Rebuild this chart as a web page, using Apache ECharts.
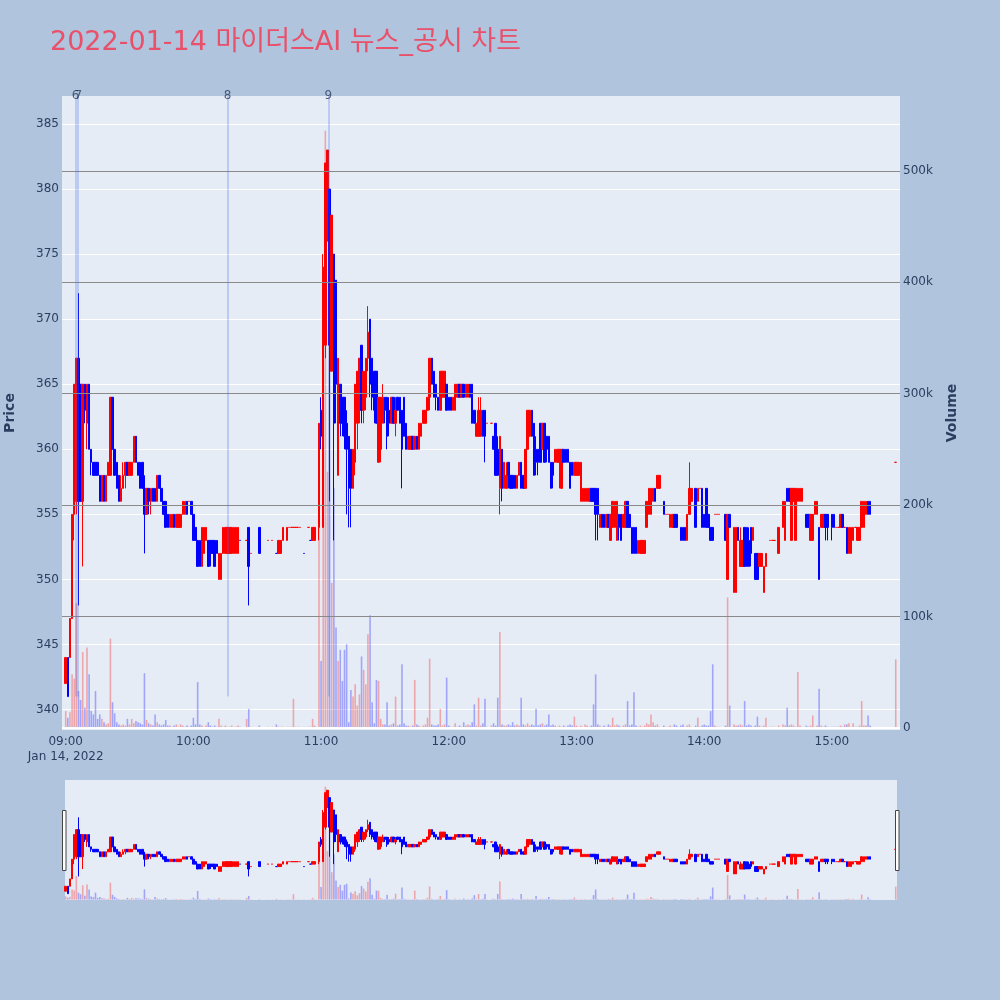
<!DOCTYPE html>
<html><head><meta charset="utf-8">
<script src="https://cdn.jsdelivr.net/npm/echarts@6/dist/echarts.min.js"></script>
<style>html,body{margin:0;padding:0;background:#B0C4DE;}#chart{width:1000px;height:1000px;}</style>
</head><body><div id="chart"></div>
<script>
// minute index from 09:00 (0..390); null = no trade in that minute
const opens = [
342,344,344,347,355,356,367,365,356,365,
362,365,360,359,359,359,358,356,358,356,
358,358,364,360,359,358,356,357,358,359,
358,358,359,361,359,359,359,357,355,357,
356,357,357,356,358,357,356,356,355,354,
354,355,354,354,354,355,355,356,356,356,
355,354,353,353,351,352,353,353,353,353,
353,353,350,350,352,352,352,352,352,352,
352,352,353,null,null,353,354,352,null,null,
null,354,null,null,null,353,null,353,null,352,
352,352,353,null,353,354,354,354,354,354,
354,null,352,null,354,353,353,353,null,354,
363,354,368,376,380,366,375,373,358,365,
364,364,362,361,360,357,359,362,363,368,
363,364,367,370,367,366,366,359,360,362,
364,364,363,362,364,362,364,364,363,364,
362,360,360,361,360,361,360,361,362,362,
363,364,367,366,365,364,363,364,364,365,
364,364,363,363,364,365,364,365,364,364,
365,365,363,361,361,361,363,363,362,null,
362,361,362,360,357,360,357,357,359,358,
358,358,357,358,359,358,357,360,361,363,
362,360,360,362,360,362,361,361,359,359,
359,359,359,357,360,360,360,359,359,358,
358,358,356,356,356,356,356,357,357,357,
357,354,355,355,354,355,353,354,354,353,
355,355,354,354,356,355,354,354,354,352,
352,352,352,354,355,355,356,357,357,357,
null,356,355,355,354,354,355,355,null,354,
354,354,353,355,356,null,357,356,357,357,
355,357,355,354,354,355,355,355,null,null,
355,350,355,null,349,349,354,351,351,354,
354,353,354,353,352,352,351,351,349,351,
null,353,353,353,null,352,null,354,353,357,
357,353,356,353,356,356,356,null,355,355,
353,353,355,355,354,354,354,355,355,null,
355,355,354,354,354,355,354,354,352,352,
353,354,353,353,354,354,355,356,356,null,
null,null,null,null,null,null,null,null,null,null,
359];
const highs = [
344,344,347,355,365,367,372,365,365,365,
365,365,360,359,359,359,358,358,358,358,
359,364,364,360,359,358,358,359,359,359,
359,359,361,361,359,359,359,358,357,357,
357,357,357,358,358,357,356,356,355,355,
355,355,355,355,355,356,356,356,356,356,
355,354,353,353,354,354,354,353,353,353,
353,353,352,352,354,354,354,354,354,354,
354,354,353,null,null,353,354,352,null,null,
null,354,null,null,null,353,null,353,null,352,
353,353,354,null,354,354,354,354,354,354,
354,null,352,null,354,353,354,354,null,362,
364,375,382,383,380,378,375,373,367,365,
364,364,363,361,360,360,365,366,367,368,
366,367,371,370,367,366,366,364,364,365,
364,364,364,364,364,364,364,364,363,364,
362,361,361,361,361,361,362,362,363,363,
364,367,367,366,365,364,366,366,366,365,
364,364,364,365,365,365,365,365,365,365,
365,365,363,362,364,364,363,363,362,null,
362,361,362,361,361,360,359,359,359,358,
358,358,358,359,359,358,360,363,363,363,
362,361,360,362,362,362,361,361,359,359,
360,360,360,360,360,360,360,359,359,359,
359,359,359,357,357,357,357,357,357,357,
357,355,355,355,355,355,355,356,356,356,
355,355,355,356,356,355,354,354,354,353,
353,353,353,356,357,357,357,357,358,358,
null,356,355,355,355,355,355,355,null,354,
354,354,355,359,357,null,357,357,357,357,
355,357,355,354,354,355,355,355,null,null,
355,355,355,null,354,354,354,354,353,354,
354,354,354,354,352,352,352,352,351,352,
null,353,353,353,null,354,null,356,356,357,
357,357,357,357,357,357,357,null,355,355,
355,355,356,356,354,355,355,355,355,null,
355,355,354,354,355,355,354,354,354,354,
354,354,354,354,356,356,356,356,356,null,
null,null,null,null,null,null,null,null,null,null,
359];
const lows = [
342,341,344,347,353,355,348,356,351,362,
360,360,358,358,358,358,356,356,356,356,
358,358,360,358,357,356,356,357,357,358,
358,358,359,359,358,357,357,352,355,355,
355,356,356,356,357,356,355,354,354,354,
354,354,354,354,354,355,355,355,356,355,
353,353,351,351,351,352,353,351,351,352,
351,352,350,350,352,352,352,352,352,352,
352,352,353,null,null,353,348,352,null,null,
null,352,null,null,null,353,null,353,null,352,
352,352,353,null,353,354,354,354,354,354,
354,null,352,null,354,353,353,353,null,353,
360,354,367,376,356,366,353,362,358,361,
361,360,355,354,354,357,358,360,362,362,
362,363,366,364,363,362,362,359,359,362,
362,360,361,362,362,361,363,362,357,361,
360,360,360,360,360,360,360,361,362,362,
363,363,365,364,363,363,363,364,364,363,
363,363,363,363,364,364,364,364,364,364,
364,362,362,361,361,361,361,359,362,null,
362,360,358,358,355,356,357,357,357,357,
357,357,357,358,357,357,357,360,361,361,
358,358,358,359,360,359,359,359,357,357,
359,359,357,357,359,359,359,357,358,358,
358,358,356,356,356,356,356,356,356,353,
353,354,354,354,354,354,353,354,354,353,
353,353,354,354,354,354,352,352,352,352,
352,352,352,354,355,355,356,356,357,357,
null,355,355,355,354,354,354,354,null,353,
353,353,353,355,356,null,354,356,357,354,
354,354,354,353,353,355,355,355,null,null,
353,350,354,null,349,349,353,351,351,351,
351,351,351,353,350,350,351,351,349,351,
null,353,353,353,null,352,null,354,353,356,
356,353,356,353,356,356,356,null,354,354,
353,353,355,355,350,354,354,353,353,null,
353,354,354,354,354,354,354,352,352,352,
353,354,353,353,354,354,355,355,355,null,
null,null,null,null,null,null,null,null,null,null,
359];
const closes = [
344,341,347,355,365,367,356,356,365,363,
365,360,359,358,358,358,356,358,356,358,
359,364,360,358,357,356,357,358,359,358,
359,359,361,359,358,357,357,355,357,356,
357,356,356,358,357,356,355,354,354,355,
355,354,355,355,355,356,356,355,356,355,
353,353,351,351,354,354,354,351,352,352,
351,352,352,352,354,354,354,354,354,354,
354,354,353,null,null,353,351,352,null,null,
null,352,null,null,null,353,null,353,null,352,
353,353,354,null,354,354,354,354,354,354,
354,null,352,null,354,353,354,354,null,362,
361,374,382,383,368,378,362,365,367,362,
362,361,360,357,357,360,365,366,367,363,
366,367,369,365,364,363,362,364,364,364,
363,361,362,364,362,363,363,362,360,361,
360,361,361,360,361,360,362,362,363,363,
364,367,365,364,364,363,366,366,366,363,
363,363,364,365,365,364,365,364,365,365,
364,362,362,362,363,363,361,361,362,null,
362,360,358,358,361,357,359,358,358,357,
357,357,358,359,357,357,360,363,363,361,
358,359,359,359,362,359,360,359,357,358,
360,360,360,360,359,359,359,357,358,359,
359,359,359,357,357,357,357,356,356,355,
355,355,354,354,355,354,355,356,356,356,
354,353,355,356,354,354,352,352,352,353,
353,353,353,356,357,357,357,356,358,358,
null,355,355,355,355,355,354,354,null,353,
353,353,355,357,357,null,354,357,357,354,
354,354,354,353,353,355,355,355,null,null,
353,355,354,null,354,354,353,353,353,351,
351,351,352,354,350,350,352,352,351,352,
null,353,353,353,null,354,null,356,356,356,
356,357,357,357,357,357,357,null,354,354,
355,355,356,356,350,355,355,354,354,null,
354,354,354,354,355,354,354,352,354,354,
354,354,354,354,356,356,356,355,355,null,
null,null,null,null,null,null,null,null,null,null,
359];
// volume in thousands of shares
const volumes = [
15,9,14,48,44,112,33,25,68,18,
72,48,15,12,33,8,12,8,5,3,
4,80,23,13,5,3,2,3,2,8,
3,8,4,6,5,4,3,49,7,4,
3,2,12,5,3,2,3,7,2,2,
1,2,3,1,3,2,1,2,1,2,
9,3,41,3,2,1,2,5,2,1,
2,1,8,2,1,2,1,1,2,1,
1,2,1,null,null,8,17,1,null,null,
null,2,null,null,null,1,null,1,null,3,
1,1,1,null,1,1,1,26,1,1,
1,null,1,null,1,1,8,2,null,190,
60,300,536,230,330,130,215,90,60,70,
42,70,75,5,34,28,39,20,30,64,
52,39,84,101,23,4,43,42,8,3,
3,23,2,3,4,28,2,3,57,4,
2,2,1,2,43,3,2,1,2,3,
9,62,3,2,2,3,17,2,3,45,
2,1,1,4,1,2,1,5,2,3,
2,5,21,2,27,2,4,26,1,null,
2,4,2,27,86,3,2,2,3,2,
5,2,3,2,27,3,2,4,2,3,
2,17,2,3,4,2,3,12,2,3,
2,1,2,1,2,1,2,3,2,10,
2,1,2,1,3,2,1,2,21,48,
3,2,1,2,1,3,2,9,2,3,
2,1,2,3,24,2,3,32,2,1,
2,1,2,4,3,12,5,2,3,1,
null,2,1,1,2,1,3,2,null,2,
3,1,2,3,1,null,2,9,1,2,
3,2,2,15,57,2,1,1,null,null,
2,117,20,null,3,2,2,3,2,24,
2,3,2,1,2,10,2,1,2,9,
null,1,1,1,null,2,null,3,2,18,
2,3,2,1,50,2,1,null,2,1,
2,11,1,2,35,2,1,2,1,null,
1,1,1,1,2,1,3,3,4,1,
4,1,1,2,24,2,2,11,2,null,
null,null,null,null,null,null,null,null,null,null,
61.5];

const newsTimes = [4.65, 5.87, 76.1, 123.4];
const newsLabels = ['6', '7', '8', '9'];
const priceTicks = [340, 345, 350, 355, 360, 365, 370, 375, 380, 385];
const volumeTicks = [0, 100, 200, 300, 400, 500];
const volumeGrid = [100, 200, 300, 400, 500];
const timeTicks = [0, 60, 120, 180, 240, 300, 360];
const timeLabels = ['09:00', '10:00', '11:00', '12:00', '13:00', '14:00', '15:00'];
const dateLabel = 'Jan 14, 2022';
const titleText = '2022-01-14 마이더스AI 뉴스_공시 차트';

const UP = '#FF0000', DOWN = '#0000FF';
const VUP = 'rgba(255,0,0,0.3)', VDOWN = 'rgba(0,0,255,0.3)';
const candleData = [], volData = [];
let prevClose = null;
for (let i = 0; i < opens.length; i++) {
  if (opens[i] == null) continue;
  const o = opens[i], c = closes[i];
  const up = c > o || (c === o && (prevClose == null || prevClose <= c));
  candleData.push([i, o, c, lows[i], highs[i]]);
  volData.push({ value: [i, volumes[i]], itemStyle: { color: up ? VUP : VDOWN } });
  prevClose = c;
}
const FONT = "'DejaVu Sans', 'Noto Sans CJK KR', sans-serif";
const TXT = '#2a3f5f';
const XMIN = -1.74, XMAX = 392.0, PMIN = 338.43, PMAX = 387.15, VMIN = -2, VMAX = 567.3;

const candleStyle = { color: UP, color0: DOWN, borderColor: UP, borderColor0: DOWN, borderWidth: 1 };

const chart = echarts.init(document.getElementById('chart'), null, { renderer: 'canvas' });
chart.setOption({
  animation: false,
  backgroundColor: '#B0C4DE',
  textStyle: { fontFamily: FONT },
  title: {
    text: titleText, left: 45, top: 24,
    textStyle: { fontFamily: FONT, fontSize: 27, fontWeight: 'normal', color: '#E9506A' }
  },
  grid: [
    { left: 62, top: 96, width: 838, height: 634, show: true, backgroundColor: '#E5ECF6', borderWidth: 0, outerBoundsMode: 'none', containLabel: false },
    { left: 62, top: 780, width: 838, height: 120, show: false, outerBoundsMode: 'none', containLabel: false }
  ],
  xAxis: [
    {
      type: 'value', gridIndex: 0, min: XMIN, max: XMAX,
      axisLine: { show: false }, axisTick: { show: false }, splitLine: { show: false },
      axisLabel: {
        customValues: timeTicks, margin: 4, color: TXT, fontSize: 12, fontFamily: FONT, lineHeight: 15.5,
        formatter: function (v) {
          const idx = timeTicks.indexOf(Math.round(v));
          if (idx < 0) return '';
          return idx === 0 ? timeLabels[0] + '\n' + dateLabel : timeLabels[idx];
        }
      }
    },
    { type: 'value', gridIndex: 1, min: XMIN, max: XMAX, show: false, splitLine: { show: false } }
  ],
  yAxis: [
    {
      type: 'value', gridIndex: 0, position: 'left', min: PMIN, max: PMAX,
      name: 'Price', nameLocation: 'middle', nameRotate: 90, nameGap: 45,
      nameTextStyle: { fontFamily: FONT, fontSize: 14, fontWeight: 'bold', color: TXT },
      axisLine: { show: false }, axisTick: { show: false, customValues: priceTicks },
      axisLabel: { customValues: priceTicks, margin: 3, color: TXT, fontSize: 12, fontFamily: FONT },
      splitLine: { show: true, lineStyle: { color: '#FFFFFF', width: 1 } }
    },
    {
      type: 'value', gridIndex: 0, position: 'right', min: VMIN, max: VMAX,
      name: 'Volume', nameLocation: 'middle', nameRotate: 90, nameGap: 45,
      nameTextStyle: { fontFamily: FONT, fontSize: 14, fontWeight: 'bold', color: TXT },
      axisLine: { show: false }, axisTick: { show: false, customValues: volumeTicks },
      axisLabel: { customValues: volumeTicks, margin: 3, color: TXT, fontSize: 12, fontFamily: FONT,
        formatter: function (v) { return Math.round(v) === 0 ? '0' : Math.round(v) + 'k'; } },
      splitLine: { show: false }
    },
    { type: 'value', gridIndex: 1, min: PMIN, max: PMAX, show: false, splitLine: { show: false } },
    { type: 'value', gridIndex: 1, min: VMIN, max: VMAX, show: false, splitLine: { show: false } }
  ],
  graphic: [
    { type: 'rect', z: 0, silent: true, shape: { x: 65, y: 780, width: 832, height: 120 }, style: { fill: '#E5ECF6' } },
    { type: 'rect', z: 100, silent: true, shape: { x: 62.5, y: 810.5, width: 3.5, height: 60 }, style: { fill: '#FFFFFF', stroke: '#444444', lineWidth: 1 } },
    { type: 'rect', z: 100, silent: true, shape: { x: 895.5, y: 810.5, width: 3.5, height: 60 }, style: { fill: '#FFFFFF', stroke: '#444444', lineWidth: 1 } }
  ],
  series: [
    {
      type: 'candlestick', xAxisIndex: 0, yAxisIndex: 0, z: 2,
      data: candleData, encode: { x: 0, y: [1, 2, 3, 4] },
      barWidth: 2, itemStyle: candleStyle,
      markLine: {
        silent: true, symbol: ['none', 'none'], animation: false, z: 6,
        lineStyle: { color: 'rgba(65,105,225,0.35)', width: 1.5, type: 'solid' },
        label: { show: false },
        emphasis: { disabled: true },
        data: newsTimes.map(function (t) { return [{ coord: [t, 341] }, { coord: [t, PMAX] }]; })
      }
    },
    {
      type: 'bar', xAxisIndex: 0, yAxisIndex: 1, z: 3,
      data: volData, barWidth: 1.6,
      markLine: {
        silent: true, symbol: ['none', 'none'], animation: false, z: 5,
        label: { show: false },
        emphasis: { disabled: true },
        lineStyle: { color: '#8a8a8a', width: 1, type: 'solid' },
        data: volumeGrid.map(function (v) { return { yAxis: v }; }).concat([{ yAxis: 0, lineStyle: { color: '#FFFFFF', width: 2, type: 'solid' } }])
      }
    },
    {
      type: 'scatter', xAxisIndex: 0, yAxisIndex: 0, z: 7, silent: true, clip: false,
      symbolSize: 0,
      data: newsTimes.map(function (t, i) { return { value: [t, PMAX], name: newsLabels[i] }; }),
      label: { show: true, position: 'inside', formatter: '{b}', color: TXT, fontSize: 12, fontFamily: FONT },
      emphasis: { disabled: true }
    },
    {
      type: 'candlestick', xAxisIndex: 1, yAxisIndex: 2, z: 2,
      data: candleData, encode: { x: 0, y: [1, 2, 3, 4] },
      barWidth: 2, itemStyle: candleStyle
    },
    {
      type: 'bar', xAxisIndex: 1, yAxisIndex: 3, z: 3,
      data: volData, barWidth: 1.6
    }
  ]
});
</script>
</body></html>
